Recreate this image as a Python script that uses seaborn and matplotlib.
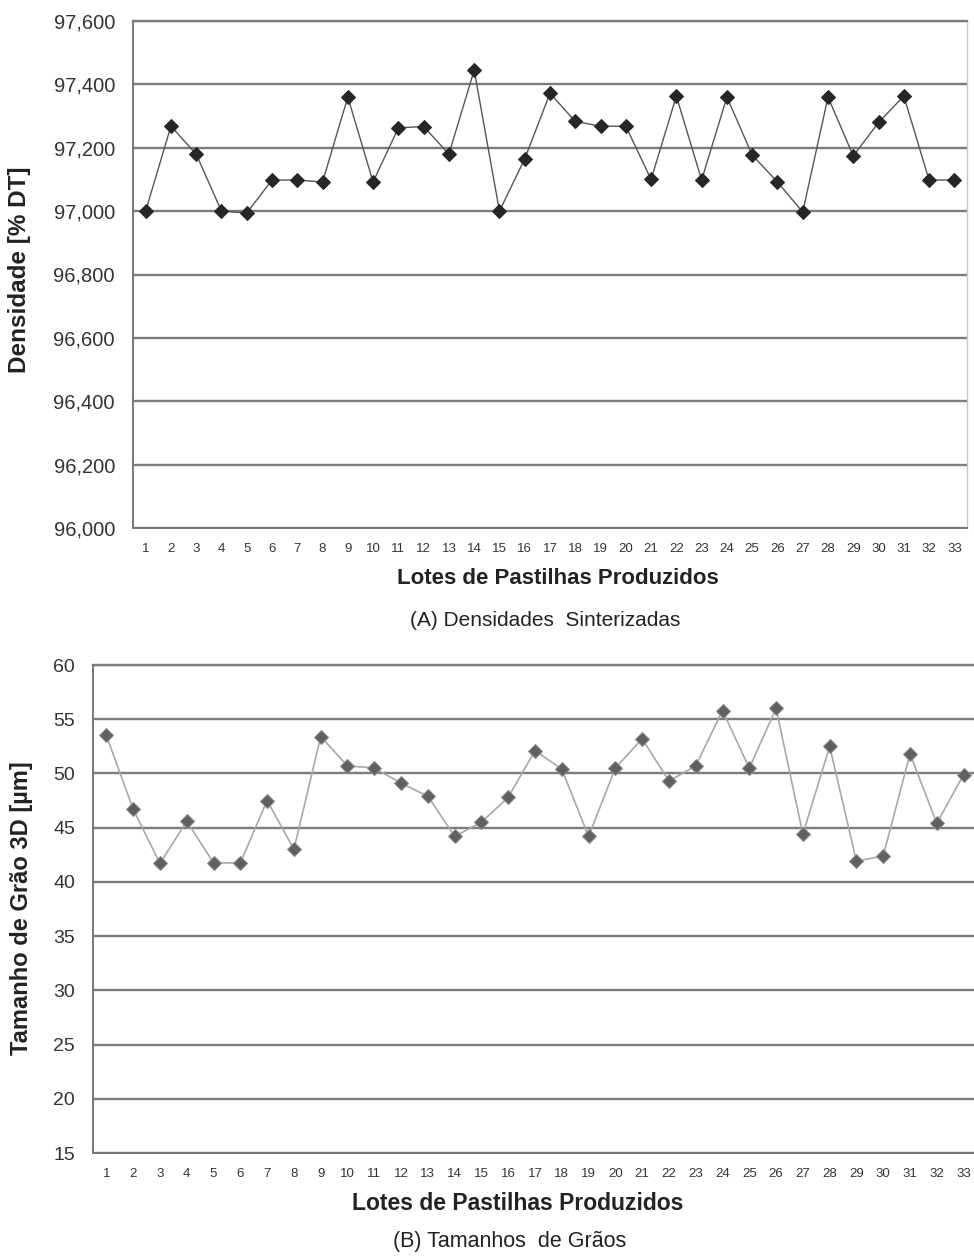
import numpy as np
import pandas as pd
import matplotlib
matplotlib.use("Agg")
import matplotlib.pyplot as plt
import seaborn as sns
from matplotlib.ticker import FuncFormatter, FixedLocator

# lotes 1..33
lotes = list(range(1, 34))

# densidade sinterizada [% DT]
densidade = [97.000, 97.268, 97.180, 97.000, 96.994, 97.098, 97.098, 97.092, 97.360, 97.092,
             97.263, 97.267, 97.180, 97.445, 97.000, 97.165, 97.372, 97.283, 97.268, 97.268,
             97.100, 97.363, 97.098, 97.360, 97.177, 97.092, 96.997, 97.360, 97.174, 97.280,
             97.363, 97.098, 97.098]

# tamanho de grao 3D [um]
tamanho = [53.5, 46.7, 41.7, 45.6, 41.75, 41.75, 47.5, 43.0, 53.4, 50.7,
           50.5, 49.1, 47.9, 44.2, 45.5, 47.8, 52.1, 50.4, 44.2, 50.5,
           53.2, 49.3, 50.7, 55.8, 50.5, 56.0, 44.4, 52.5, 41.9, 42.4,
           51.8, 45.4, 49.9]

dens_ticks = [96.0, 96.2, 96.4, 96.6, 96.8, 97.0, 97.2, 97.4, 97.6]
tam_ticks = [15, 20, 25, 30, 35, 40, 45, 50, 55, 60]

df = pd.DataFrame({'Lote': lotes, 'Densidade': densidade, 'Tamanho': tamanho})

sns.set_style("white")
plt.rcParams['font.family'] = ['Liberation Sans', 'DejaVu Sans']

W, H = 974, 1259
fig = plt.figure(figsize=(W / 100, H / 100), dpi=100)
GRID = '#7c7c7c'


def px_axes(l, t, r, b):
    return fig.add_axes([l / W, 1 - b / H, (r - l) / W, (b - t) / H])


def style_axes(ax, yticks, fmt, ysize):
    ax.set_xlim(0.5, 33.5)
    ax.set_ylim(yticks[0], yticks[-1])
    ax.set_yticks(yticks)
    ax.yaxis.set_major_formatter(FuncFormatter(fmt))
    ax.set_xticks(lotes)
    ax.set_xticklabels([str(i) for i in lotes], fontsize=9.5, color='#333333')
    ax.xaxis.set_minor_locator(FixedLocator(np.arange(0.5, 34, 1)))
    ax.tick_params(axis='x', which='major', length=0, pad=11)
    ax.tick_params(axis='x', which='minor', length=4, width=1, color='#666666', direction='out')
    ax.tick_params(axis='y', length=6, width=1, color='#666666', direction='out',
                   labelsize=ysize, labelcolor='#333333', pad=7)
    ax.yaxis.grid(True, color=GRID, linewidth=1.7)
    ax.set_axisbelow(True)
    for s in ['left', 'bottom']:
        ax.spines[s].set_color('#777777')
        ax.spines[s].set_linewidth(1.4)
    ax.spines['top'].set_color(GRID)
    ax.spines['top'].set_linewidth(1.7)
    ax.set_xlabel('')
    ax.set_ylabel('')


# (A) densidades
ax1 = px_axes(133, 21, 967, 528)
sns.lineplot(data=df, x='Lote', y='Densidade', ax=ax1, color='#555555', linewidth=1.0,
             marker='D', markersize=7, markerfacecolor='#262626', markeredgecolor='#262626')
style_axes(ax1, dens_ticks, lambda v, p: f"{v:.3f}".replace('.', ','), 14.5)
ax1.spines['right'].set_color('#c8c8c8')
ax1.spines['right'].set_linewidth(1.0)

# (B) tamanhos de grao
ax2 = px_axes(93, 665, 977, 1153)
sns.lineplot(data=df, x='Lote', y='Tamanho', ax=ax2, color='#a8a8a8', linewidth=1.2,
             marker='D', markersize=7.5, markerfacecolor='#606060', markeredgecolor='#8a8a8a')
style_axes(ax2, tam_ticks, lambda v, p: f"{v:.0f}", 14)
ax2.spines['right'].set_visible(False)

# axis titles and captions
fig.text(20 / W, 1 - 270 / H, 'Densidade [% DT]', rotation=90, ha='center', va='center',
         fontsize=17.5, fontweight='bold', color='#222222')
fig.text(22 / W, 1 - 908 / H, 'Tamanho de Grão 3D [µm]', rotation=90, ha='center', va='center',
         fontsize=17, fontweight='bold', color='#222222')
fig.text(558 / W, 1 - 579 / H, 'Lotes de Pastilhas Produzidos', ha='center', va='center',
         fontsize=16, fontweight='bold', color='#222222')
fig.text(518 / W, 1 - 1204 / H, 'Lotes de Pastilhas Produzidos', ha='center', va='center',
         fontsize=16.5, fontweight='bold', color='#222222')
fig.text(545 / W, 1 - 620 / H, '(A) Densidades  Sinterizadas', ha='center', va='center',
         fontsize=15, color='#222222')
fig.text(510 / W, 1 - 1241 / H, '(B) Tamanhos  de Grãos', ha='center', va='center',
         fontsize=15.5, color='#222222')

fig.savefig('out.png', dpi=100)
